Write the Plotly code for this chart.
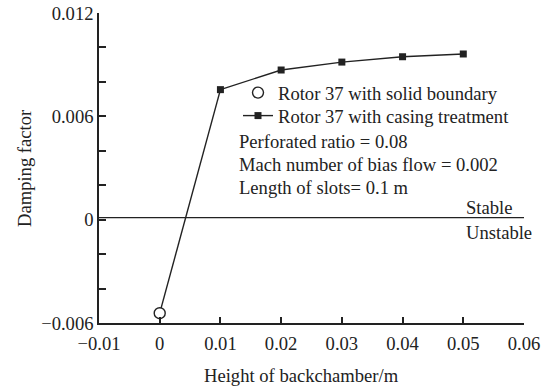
import plotly.graph_objects as go

# Data
heights = [0.0, 0.01, 0.02, 0.03, 0.04, 0.05]
damping_casing = [-0.00543, 0.00755, 0.00869, 0.00915, 0.00946, 0.00962]
solid_height = [0.0]
solid_damping = [-0.00543]
x_ticks = [-0.01, 0, 0.01, 0.02, 0.03, 0.04, 0.05, 0.06]
x_ticktext = ["\u22120.01", "0", "0.01", "0.02", "0.03", "0.04", "0.05", "0.06"]
y_ticks = [-0.006, 0, 0.006, 0.012]
y_ticktext = ["\u22120.006", "0", "0.006", "0.012"]
y_minor = [-0.004, -0.002, 0.002, 0.004, 0.008, 0.01]
stable_level = 0.00012

FONT = "Liberation Serif, Times New Roman, serif"
FS = 18.6
INK = "#222222"

W, H = 546, 387
ML, MR, MT, MB = 99, 22, 13, 64
PW, PH = W - ML - MR, H - MT - MB


def px_x(p):
    return (p - ML) / PW


def px_y(p):
    return 1 - (p - MT) / PH


fig = go.Figure()

# connector from solid boundary point to first casing point
fig.add_trace(go.Scatter(
    x=heights[:2], y=damping_casing[:2], mode="lines",
    line=dict(color=INK, width=1.4), showlegend=False, hoverinfo="skip"))

fig.add_trace(go.Scatter(
    x=heights[1:], y=damping_casing[1:], mode="lines+markers",
    name="Rotor 37 with casing treatment", legend="legend2",
    line=dict(color=INK, width=1.4),
    marker=dict(symbol="square", size=7, color=INK)))

fig.add_trace(go.Scatter(
    x=solid_height, y=solid_damping, mode="markers",
    name="Rotor 37 with solid boundary", legend="legend",
    marker=dict(symbol="circle", size=11, color="white",
                line=dict(color=INK, width=1.4))))

fig.add_shape(type="line", xref="x", yref="y", x0=-0.01, x1=0.06,
              y0=stable_level, y1=stable_level,
              line=dict(color=INK, width=1.4))

notes = ["Perforated ratio = 0.08", "Mach number of bias flow = 0.002",
         "Length of slots= 0.1 m"]
note_py = [141, 164, 187]
for t, py in zip(notes, note_py):
    fig.add_annotation(x=px_x(237), y=px_y(py), xref="paper", yref="paper", text=t,
                       showarrow=False, xanchor="left", yanchor="middle",
                       font=dict(family=FONT, size=FS, color=INK))
fig.add_annotation(x=px_x(514), y=px_y(207), xref="paper", yref="paper", text="Stable",
                   showarrow=False, xanchor="right", yanchor="middle",
                   font=dict(family=FONT, size=FS, color=INK))
fig.add_annotation(x=px_x(534), y=px_y(232), xref="paper", yref="paper", text="Unstable",
                   showarrow=False, xanchor="right", yanchor="middle",
                   font=dict(family=FONT, size=FS, color=INK))
# axis titles
fig.add_annotation(x=px_x(301), y=px_y(375), xref="paper", yref="paper",
                   text="Height of backchamber/m", showarrow=False,
                   xanchor="center", yanchor="middle",
                   font=dict(family=FONT, size=FS, color=INK))
fig.add_annotation(x=px_x(24), y=px_y(168), xref="paper", yref="paper",
                   text="Damping factor", showarrow=False, textangle=-90,
                   xanchor="center", yanchor="middle",
                   font=dict(family=FONT, size=FS, color=INK))

leg_common = dict(xref="paper", yref="paper", xanchor="left", yanchor="middle",
                  bgcolor="rgba(0,0,0,0)", font=dict(family=FONT, size=FS, color=INK),
                  itemsizing="trace", borderwidth=0)

fig.update_layout(
    width=W, height=H,
    margin=dict(l=ML, r=MR, t=MT, b=MB),
    paper_bgcolor="white", plot_bgcolor="white",
    font=dict(family=FONT, size=FS, color=INK),
    showlegend=True,
    legend=dict(x=px_x(238), y=px_y(93), **leg_common),
    legend2=dict(x=px_x(238), y=px_y(116), **leg_common),
    xaxis=dict(range=[-0.01, 0.06], tickvals=x_ticks, ticktext=x_ticktext,
               automargin=False, ticklabelstandoff=3,
               showgrid=False, zeroline=False, showline=True,
               linecolor=INK, linewidth=1.5, ticks="inside", ticklen=6,
               tickcolor=INK, tickwidth=1.5),
    yaxis=dict(range=[-0.006, 0.012], tickvals=y_ticks, ticktext=y_ticktext,
               automargin=False,
               showgrid=False, zeroline=False, showline=True,
               linecolor=INK, linewidth=1.5, ticks="inside", ticklen=7,
               tickcolor=INK, tickwidth=1.5,
               minor=dict(tickvals=y_minor, ticks="inside", ticklen=7,
                          tickcolor=INK, tickwidth=1.5)),
)

fig.write_html("out.html")
